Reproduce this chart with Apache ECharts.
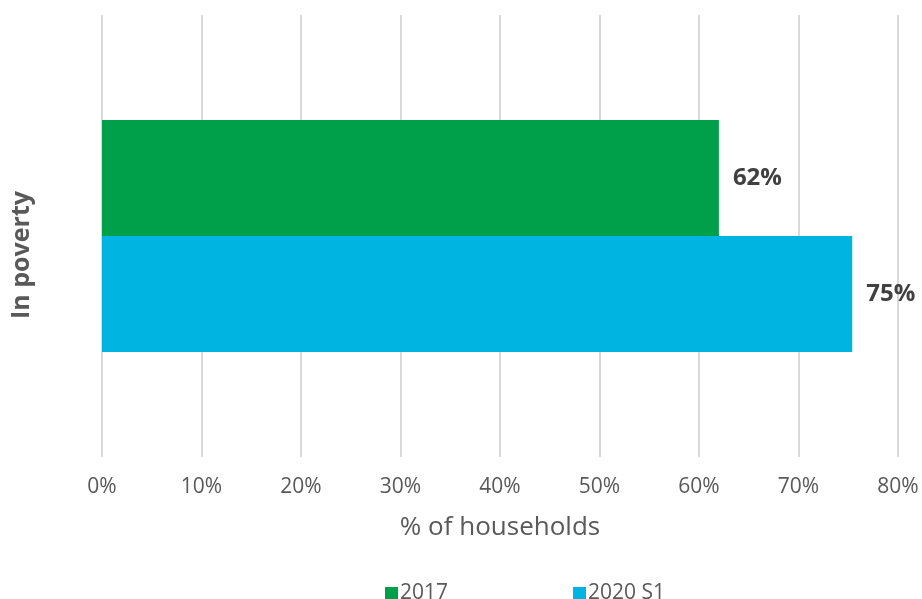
<!DOCTYPE html>
<html>
<head>
<meta charset="utf-8">
<script src="https://cdn.jsdelivr.net/npm/echarts@6/dist/echarts.min.js"></script>
<style>
  html, body { margin: 0; padding: 0; background: #fff; }
  #chart { width: 922px; height: 599px; }
</style>
</head>
<body>
<div id="chart"></div>
<script>
// data
const categories = ['In poverty']
const seriesNames = ['2017', '2020 S1']
const values2017 = [62.0]
const values2020 = [75.4]
const xTicks = [0, 10, 20, 30, 40, 50, 60, 70, 80]

const font = '"Open Sans", sans-serif'
const chart = echarts.init(document.getElementById('chart'))

const labelStyle = {
  show: true,
  position: 'right',
  distance: 14,
  fontFamily: font,
  fontSize: 24,
  fontWeight: 'bold',
  color: '#404040',
  formatter: p => Math.round(p.value) + '%'
}

chart.setOption({
  animation: false,
  grid: { left: 102, right: 24, top: 15, bottom: 142, outerBoundsMode: 'none' },
  legend: {
    data: seriesNames,
    left: 380,
    top: 578,
    icon: 'rect',
    itemWidth: 13,
    itemHeight: 13,
    itemGap: 125,
    textStyle: { fontFamily: font, fontSize: 21, color: '#595959', padding: [0, 0, 0, -3] }
  },
  xAxis: {
    type: 'value',
    min: xTicks[0],
    max: xTicks[xTicks.length - 1],
    interval: 10,
    name: '% of households',
    nameLocation: 'middle',
    nameGap: 58,
    nameTextStyle: { fontFamily: font, fontSize: 26, color: '#595959' },
    axisLine: { show: false },
    axisTick: { show: false },
    axisLabel: {
      margin: 20,
      fontFamily: font,
      fontSize: 21,
      color: '#595959',
      formatter: v => v + '%'
    },
    splitLine: { lineStyle: { color: '#d9d9d9', width: 2 } }
  },
  yAxis: {
    type: 'category',
    data: categories,
    inverse: true,
    name: categories[0],
    nameLocation: 'middle',
    nameRotate: 90,
    nameGap: 68,
    nameTextStyle: {
      fontFamily: font, fontSize: 25, fontWeight: 'bold', color: '#595959',
      padding: [0, 38, 0, 0]
    },
    axisLine: { show: false },
    axisTick: { show: false },
    axisLabel: { show: false }
  },
  series: [
    {
      name: seriesNames[0],
      type: 'bar',
      data: values2017,
      barGap: '0%',
      barCategoryGap: '47.5%',
      itemStyle: { color: '#00a04b' },
      label: labelStyle
    },
    {
      name: seriesNames[1],
      type: 'bar',
      data: values2020,
      barGap: '0%',
      barCategoryGap: '47.5%',
      itemStyle: { color: '#00b4e1' },
      label: labelStyle
    }
  ]
})
</script>
</body>
</html>
